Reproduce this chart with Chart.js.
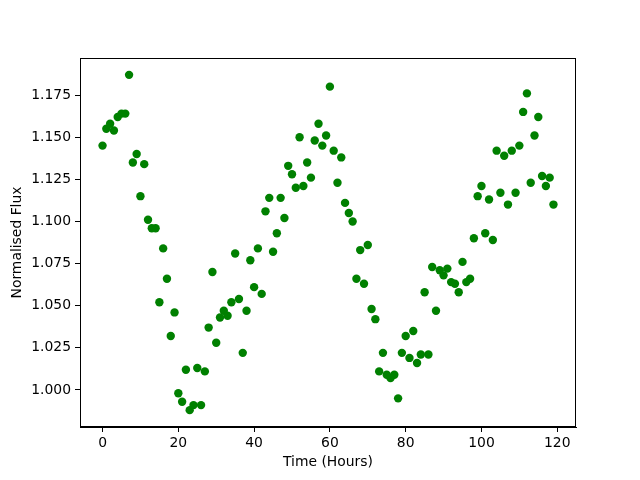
<!DOCTYPE html>
<html>
<head>
<meta charset="utf-8">
<script src="https://cdn.jsdelivr.net/npm/chart.js@4"></script>
<style>
  html, body { margin: 0; padding: 0; background: #fff; }
  #wrap { width: 640px; height: 480px; }
</style>
</head>
<body>
<div id="wrap"><canvas id="myChart" width="640" height="480"></canvas></div>
<script>
// time in hours, one sample per hour
const hours = [];
for (let h = 0; h < 120; h++) hours.push(h);

const flux = [
  1.145, 1.155, 1.158, 1.154, 1.162, 1.164, 1.164, 1.187, 1.135, 1.140,
  1.115, 1.134, 1.101, 1.096, 1.096, 1.052, 1.084, 1.066, 1.032, 1.046,
  0.998, 0.993, 1.012, 0.988, 0.991, 1.013, 0.991, 1.011, 1.037, 1.070,
  1.028, 1.043, 1.047, 1.044, 1.052, 1.081, 1.054, 1.022, 1.047, 1.077,
  1.061, 1.084, 1.057, 1.106, 1.114, 1.082, 1.093, 1.114, 1.102, 1.133,
  1.128, 1.120, 1.150, 1.121, 1.135, 1.126, 1.148, 1.158, 1.145, 1.151,
  1.180, 1.142, 1.123, 1.138, 1.111, 1.105, 1.100, 1.066, 1.083, 1.063,
  1.086, 1.048, 1.042, 1.011, 1.022, 1.009, 1.007, 1.009, 0.995, 1.022,
  1.032, 1.019, 1.035, 1.016, 1.021, 1.058, 1.021, 1.073, 1.047, 1.071,
  1.068, 1.072, 1.064, 1.063, 1.058, 1.076, 1.064, 1.066, 1.090, 1.115,
  1.121, 1.093, 1.113, 1.089, 1.142, 1.117, 1.139, 1.110, 1.142, 1.117,
  1.145, 1.165, 1.176, 1.123, 1.151, 1.162, 1.127, 1.121, 1.126, 1.110
];

const xTicks = [0, 20, 40, 60, 80, 100, 120];
const yTicks = [1.000, 1.025, 1.050, 1.075, 1.100, 1.125, 1.150, 1.175];

Chart.defaults.font.family = "'DejaVu Sans', sans-serif";
Chart.defaults.font.size = 13.9;
Chart.defaults.color = '#000';

// matplotlib-style box around the plot area
const frame = {
  id: 'frame',
  afterDraw(chart) {
    const a = chart.chartArea;
    const ctx = chart.ctx;
    ctx.save();
    ctx.strokeStyle = '#000';
    ctx.lineWidth = 1;
    ctx.strokeRect(a.left + 0.5, a.top + 0.5, a.right - a.left - 1, a.bottom - a.top - 1);
    ctx.restore();
  }
};

const ctx = document.getElementById('myChart').getContext('2d');
new Chart(ctx, {
  type: 'scatter',
  data: {
    datasets: [{
      data: hours.map((h, i) => ({ x: h, y: flux[i] })),
      backgroundColor: 'green',
      borderWidth: 0,
      pointRadius: 4.2,
      pointHoverRadius: 4.2
    }]
  },
  options: {
    responsive: false,
    animation: false,
    plugins: {
      legend: { display: false },
      tooltip: { enabled: false }
    },
    layout: {
      padding: { left: 0, top: 58, right: 64, bottom: 0 }
    },
    scales: {
      x: {
        type: 'linear',
        min: -5.95,
        max: 124.95,
        afterBuildTicks: s => { s.ticks = xTicks.map(v => ({ value: v })); },
        afterFit: s => { s.height = 53; },
        ticks: { padding: 3, callback: v => String(v) },
        grid: { drawOnChartArea: false, tickLength: 5, color: '#000' },
        border: { color: '#000' },
        title: { display: true, text: 'Time (Hours)', padding: { top: 0, bottom: 9 } }
      },
      y: {
        type: 'linear',
        min: 0.978,
        max: 1.197,
        afterBuildTicks: s => { s.ticks = yTicks.map(v => ({ value: v })); },
        afterFit: s => { s.width = 80; },
        ticks: { padding: 4, callback: v => v.toFixed(3) },
        grid: { drawOnChartArea: false, tickLength: 5, color: '#000' },
        border: { color: '#000' },
        title: { display: true, text: 'Normalised Flux', padding: { top: 9, bottom: 0 } }
      }
    }
  },
  plugins: [frame]
});
</script>
</body>
</html>
